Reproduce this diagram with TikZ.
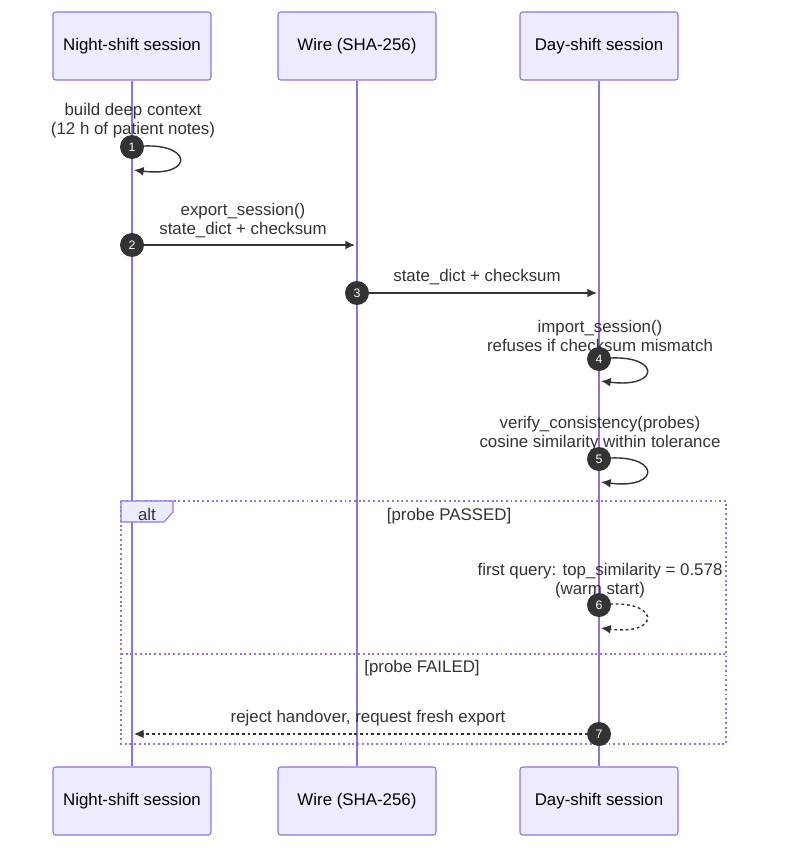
\documentclass[tikz,border=0pt]{standalone}
\usepackage{fontspec}
\setmainfont{Liberation Sans}
\usetikzlibrary{arrows.meta}
\definecolor{actfill}{HTML}{ECECFF}
\definecolor{actline}{HTML}{9370DB}
\definecolor{ink}{HTML}{333333}
\tikzset{
  actor/.style={draw=actline, fill=actfill, line width=0.6pt, rounded corners=1.5pt,
    minimum width=3.16cm, minimum height=1.36cm, text=black, font=\fontsize{9.6}{10.8}\selectfont},
  life/.style={draw=actline, line width=1.1pt},
  msg/.style={draw=ink, line width=0.8pt, ->},
  dots/.style={dash pattern=on 1.6pt off 1.6pt},
  label/.style={text=ink, align=center, font=\fontsize{9.6}{10.8}\selectfont, inner sep=0pt},
  num/.style={circle, fill=ink, text=white, minimum size=0.48cm, inner sep=0pt, font=\fontsize{7}{7}\selectfont},
  frame/.style={draw=actline, line width=1.1pt, dash pattern=on 1.1pt off 1.6pt}
}
\begin{document}
\begin{tikzpicture}[x=0.02cm, y=-0.02cm, >={Latex[length=5.5pt,width=5pt]}]
\useasboundingbox (0,0) rectangle (787,855);
\node[actor](night) at (132,46){Night-shift session};
\node[actor](wire) at (357,46){Wire (SHA-256)};
\node[actor](day) at (599,46){Day-shift session};
\node[actor](night2) at (132,801){Night-shift session};
\node[actor](wire2) at (357,801){Wire (SHA-256)};
\node[actor](day2) at (599,801){Day-shift session};
\draw[life](night.south)--(night2.north);
\draw[life](wire.south)--(wire2.north);
\draw[life](day.south)--(day2.north);
\draw[frame](121,501)rectangle(726,744);
\draw[frame](121,654)--(726,654);
\draw[draw=actline, fill=actfill, line width=0.6pt](121,501)--(173,501)--(173,512)--(164,522)--(121,522)--cycle;
\node[label](alt) at (147,514){alt};
\node[label](pass) at (449,516){[probe PASSED]};
\node[label](fail) at (422,668){[probe FAILED]};
\node[label](t1) at (133,121){build deep context\\(12 h of patient notes)};
\node[label](t2) at (243,221){export\_session()\\state\_dict + checksum};
\node[label](t3) at (477,277){state\_dict + checksum};
\node[label](t4) at (600,336){import\_session()\\refuses if checksum mismatch};
\node[label](t5) at (600,434){verify\_consistency(probes)\\cosine similarity within tolerance};
\node[label](t6) at (600,581){first query: top\_similarity = 0.578\\(warm start)};
\node[label](t7) at (368,718){reject handover, request fresh export};
\coordinate(e1) at (134,170);
\coordinate(e2) at (355,245);
\coordinate(e3) at (597,293);
\coordinate(e4) at (601,381);
\coordinate(e5) at (601,482);
\coordinate(e6) at (601,628);
\coordinate(e7) at (134,734);
\coordinate(s1) at (132,147);
\coordinate(s2) at (132,245);
\coordinate(s3) at (357,293);
\coordinate(s4) at (599,359);
\coordinate(s5) at (599,459);
\coordinate(s6) at (599,605);
\coordinate(s7) at (599,734);
\draw[msg](s1) .. controls +(62,-8) and +(62,8) .. (e1);
\draw[msg](s2)--(e2);
\draw[msg](s3)--(e3);
\draw[msg](s4) .. controls +(62,-8) and +(62,8) .. (e4);
\draw[msg](s5) .. controls +(62,-8) and +(62,8) .. (e5);
\draw[msg, dots](s6) .. controls +(62,-8) and +(62,8) .. (e6);
\draw[msg, dots](s7)--(e7);
\foreach \i in {1,...,7}
  \node[num](n\i) at (s\i){\i};
\end{tikzpicture}
\end{document}
